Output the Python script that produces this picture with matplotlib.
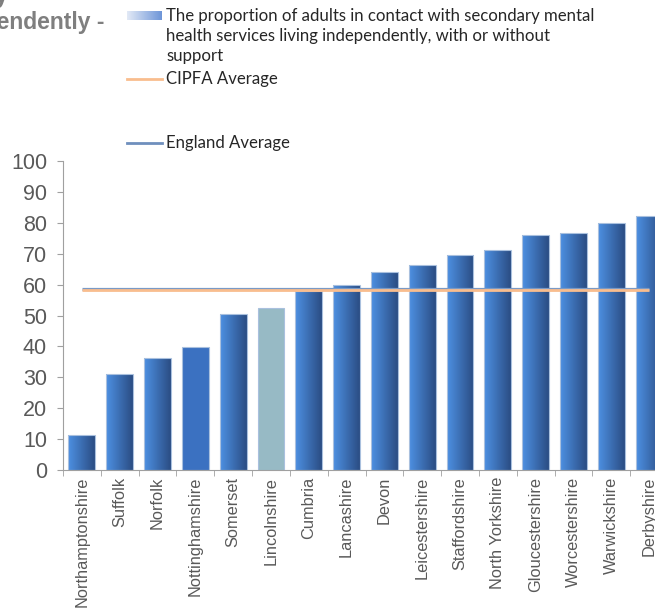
import numpy as np
import matplotlib
matplotlib.use("Agg")
import matplotlib.pyplot as plt
from matplotlib.colors import LinearSegmentedColormap
from matplotlib.lines import Line2D


#
# Adults in contact with secondary mental health services living
# independently, by CIPFA comparator county
#

areas = ["Northamptonshire", "Suffolk", "Norfolk", "Nottinghamshire",
         "Somerset", "Lincolnshire", "Cumbria", "Lancashire", "Devon",
         "Leicestershire", "Staffordshire", "North Yorkshire",
         "Gloucestershire", "Worcestershire", "Warwickshire", "Derbyshire"]
values = [11.2, 31.2, 36.2, 39.8, 50.4, 52.5, 57.8, 59.8, 64.1, 66.3,
          69.7, 71.2, 76.1, 76.7, 80.0, 82.3]
cipfa_avg = 58.1
england_avg = 58.7

bar_label = ("The proportion of adults in contact with secondary mental\n"
             "health services living independently, with or without\n"
             "support")

W, H = 655, 610
fig = plt.figure(figsize=(W / 100, H / 100), dpi=100)
ax = fig.add_axes([63 / W, 140 / H, 605 / W, 309 / H])

bar_cmap = LinearSegmentedColormap.from_list("bar", ["#4d90e2", "#2b4d84"])
grad = np.linspace(0, 1, 64).reshape(1, -1)

x = np.arange(len(areas))
bars = ax.bar(x, values, width=0.71, color="none", edgecolor="#a9c0de",
              linewidth=0.8, zorder=2)
for i, b in enumerate(bars):
    if areas[i] == "Lincolnshire":
        b.set_facecolor("#97bac5")
        continue
    if areas[i] == "Nottinghamshire":
        b.set_facecolor("#3b71c1")
        continue
    x0, w, h = b.get_x(), b.get_width(), b.get_height()
    im = ax.imshow(grad, cmap=bar_cmap, aspect="auto",
                   extent=[x0, x0 + w, 0, h], zorder=1.9)
    im.set_clip_path(b)

ax.plot(x, [england_avg] * len(x), color="#7a9ac6", lw=2.3, zorder=3,
        solid_capstyle="butt")
ax.plot(x, [cipfa_avg] * len(x), color="#f9bd8e", lw=2.0, zorder=3,
        solid_capstyle="butt")

ax.set_xlim(-0.5, len(areas) - 0.5)
ax.set_ylim(0, 100)
ax.set_yticks(range(0, 101, 10))
ax.set_xticks(x)
ax.set_xticks(np.arange(-0.5, len(areas), 1), minor=True)
ax.set_xticklabels(areas, rotation=90, fontsize=11.8, color="#595959",
                   family="Liberation Sans")
for lab in ax.get_yticklabels():
    lab.set_fontsize(15.5)
    lab.set_color("#595959")
    lab.set_family("Liberation Sans")
ax.tick_params(axis="x", which="major", length=0, pad=5)
ax.tick_params(axis="x", which="minor", length=4, color="#a0a0a0")
ax.tick_params(axis="y", length=4.5, color="#a0a0a0", pad=7)
for s in ["top", "right"]:
    ax.spines[s].set_visible(False)
for s in ["left", "bottom"]:
    ax.spines[s].set_color("#a0a0a0")
ax.set_axisbelow(True)

# cropped title, top left
fig.text(8 / W, 1 - (-4) / H, "Secondary Mental Health Services Living Independently",
         ha="right", va="center", fontsize=16.5, fontweight="bold",
         color="#7f7f7f", family="Liberation Sans")
fig.text(104 / W, 1 - 22 / H, "Living Independently -", ha="right",
         va="center", fontsize=16.5, fontweight="bold", color="#7f7f7f",
         family="Liberation Sans")

# legend, drawn on an overlay in pixel units
lax = fig.add_axes([0, 0, 1, 1], frameon=False)
lax.set_xlim(0, W)
lax.set_ylim(H, 0)
lax.axis("off")
sw = LinearSegmentedColormap.from_list("sw", ["#e2e9f6", "#6e96d8"])
lax.imshow(grad, cmap=sw, aspect="auto", extent=[127, 162, 20, 11])
lax.text(166, 8, bar_label, ha="left", va="top", fontsize=12.1,
         color="#262626", family="Lato", linespacing=1.3)
lax.add_line(Line2D([127, 162], [79, 79], color="#f9bd8e", lw=2))
lax.text(166, 79, "CIPFA Average", ha="left", va="center", fontsize=12.1,
         color="#262626", family="Lato")
lax.add_line(Line2D([127, 162], [143, 143], color="#6f8fbd", lw=2))
lax.text(166, 143, "England Average", ha="left", va="center", fontsize=12.1,
         color="#262626", family="Lato")

fig.savefig("out.png", dpi=100)
